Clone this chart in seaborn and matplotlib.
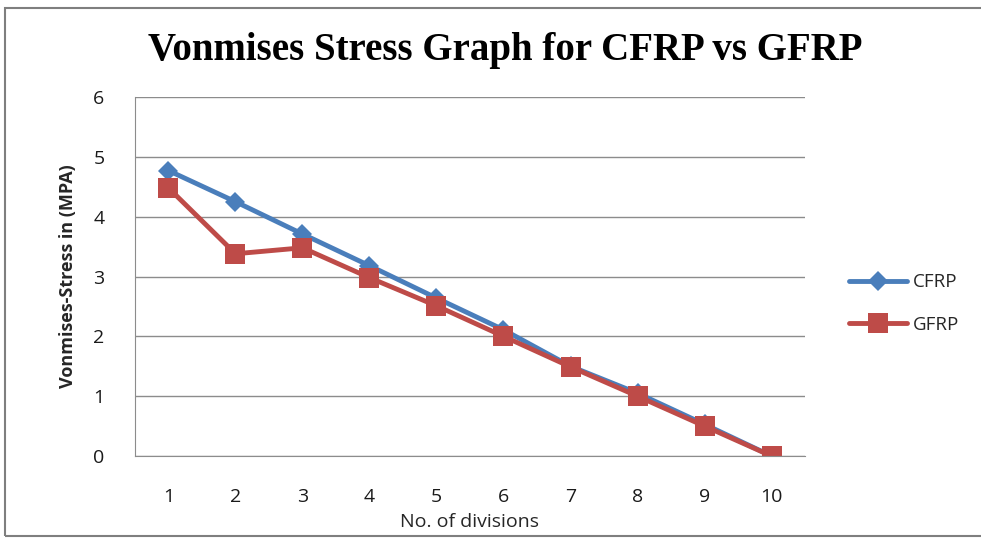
import pandas as pd
import seaborn as sns
import matplotlib.pyplot as plt
from matplotlib.patches import Rectangle

divisions = [1, 2, 3, 4, 5, 6, 7, 8, 9, 10]
cfrp = [4.77, 4.25, 3.71, 3.18, 2.64, 2.11, 1.50, 1.05, 0.53, 0.0]
gfrp = [4.48, 3.38, 3.48, 2.98, 2.51, 2.00, 1.49, 1.00, 0.50, 0.0]

df = pd.DataFrame({"div": divisions * 2,
                   "stress": cfrp + gfrp,
                   "series": ["CFRP"] * 10 + ["GFRP"] * 10})

sns.set_style("white")
plt.rcParams['font.family'] = ['Open Sans', 'DejaVu Sans']

fig = plt.figure(figsize=(9.81, 5.41), dpi=100)
ax = fig.add_axes([0.1376, 0.1571, 0.6830, 0.6636])

colors = {"CFRP": "#4a7ebb", "GFRP": "#be4b48"}
markers = {"CFRP": "D", "GFRP": "s"}
sizes = {"CFRP": 10, "GFRP": 14}
for name in ["CFRP", "GFRP"]:
    sub = df[df["series"] == name]
    sns.lineplot(data=sub, x="div", y="stress", ax=ax, color=colors[name],
                 marker=markers[name], markersize=sizes[name], linewidth=3.5,
                 markeredgewidth=0, label=name)

ax.set_xlim(0.5, 10.5)
ax.set_ylim(0, 6)
ax.set_xticks(divisions)
ax.set_yticks(range(7))
ax.yaxis.grid(True, color="#8c8c8c", linewidth=1)
ax.set_axisbelow(True)
for s in ["top", "right"]:
    ax.spines[s].set_visible(False)
ax.spines["left"].set_color("#8c8c8c")
ax.spines["bottom"].set_color("#8c8c8c")
ax.tick_params(axis="both", length=0, labelsize=14, colors="#1a1a1a")
ax.tick_params(axis="y", pad=22)
ax.tick_params(axis="x", pad=23)

ax.set_xlabel("No. of divisions", fontsize=14, labelpad=5)
ax.set_ylabel("Vonmises-Stress in (MPA)", fontsize=13, fontweight="bold", labelpad=12)
fig.suptitle("Vonmises Stress Graph for CFRP vs GFRP", x=0.515, y=0.94,
             fontsize=28, fontweight="bold", family="Liberation Serif", color="black")

leg = ax.legend(loc="center left", bbox_to_anchor=(1.04, 0.425), frameon=False,
                fontsize=13.5, handlelength=3.1, labelspacing=1.3, handletextpad=0.3)

fig.patches.append(Rectangle((5 / 981, 5 / 541), 1.2, 1 - 13 / 541,
                             transform=fig.transFigure, fill=False,
                             edgecolor="#7f7f7f", linewidth=1.5, zorder=10))

plt.savefig("out.png", dpi=100)
